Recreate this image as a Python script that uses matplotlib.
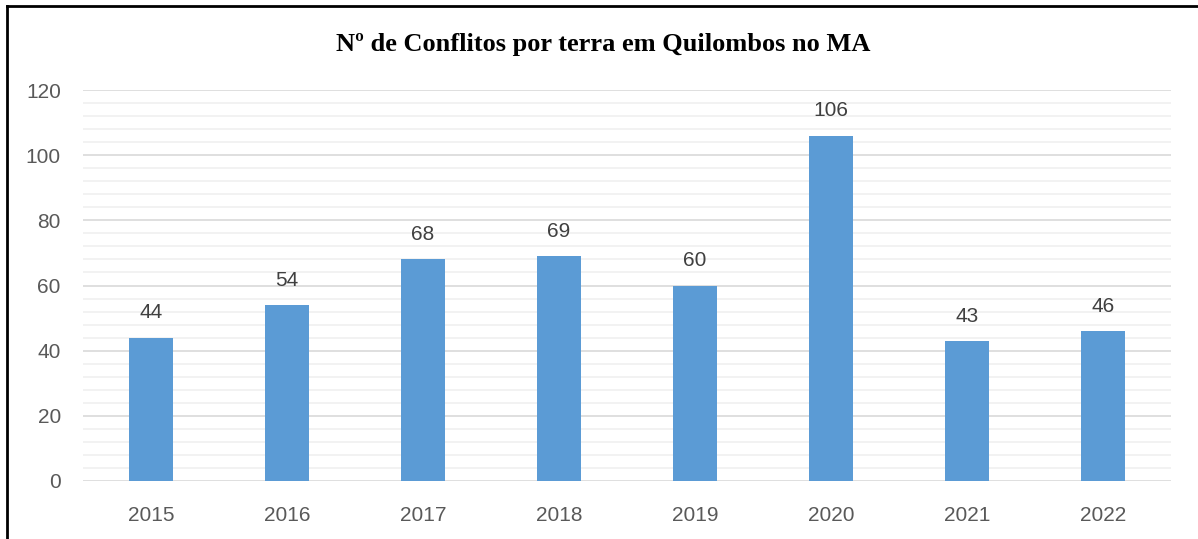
import matplotlib.pyplot as plt
from matplotlib.lines import Line2D
from matplotlib.ticker import MultipleLocator

years = ['2015', '2016', '2017', '2018', '2019', '2020', '2021', '2022']
conflicts = [44, 54, 68, 69, 60, 106, 43, 46]

plt.rcParams['font.family'] = ['Liberation Sans', 'DejaVu Sans']

fig = plt.figure(figsize=(11.98, 5.39), dpi=100)
ax = fig.add_axes([83 / 1198, 1 - 481 / 539, (1171 - 83) / 1198, (481 - 90) / 539])

x = range(len(years))
bars = ax.bar(x, conflicts, width=0.33, color='#5b9bd5', zorder=3)

ax.set_xlim(-0.5, len(years) - 0.5)
ax.set_ylim(0, 120)
ax.yaxis.set_major_locator(MultipleLocator(20))
ax.yaxis.set_minor_locator(MultipleLocator(4))
ax.grid(which='major', axis='y', color='#d9d9d9', linewidth=1.2, zorder=0)
ax.grid(which='minor', axis='y', color='#f0f0f0', linewidth=1.2, zorder=0)
ax.set_axisbelow(True)

ax.set_xticks(list(x))
ax.set_xticklabels(years)
ax.tick_params(axis='both', which='both', length=0, labelsize=15, colors='#595959')
ax.tick_params(axis='x', pad=18)
ax.tick_params(axis='y', pad=16)
for s in ax.spines.values():
    s.set_visible(False)

for xi, v in zip(x, conflicts):
    ax.annotate(str(v), (xi, v), xytext=(0, 11), textcoords='offset points',
                ha='center', va='bottom', fontsize=15, color='#404040')

fig.text(603 / 1198, 1 - 44 / 539, 'Nº de Conflitos por terra em Quilombos no MA',
         ha='center', va='center', fontsize=19, fontweight='bold',
         family=['Liberation Serif', 'DejaVu Serif'])

# frame lines (left and top only, as in the original crop)
fig.add_artist(Line2D([7 / 1198, 7 / 1198], [0, 1 - 6 / 539], color='black', linewidth=2))
fig.add_artist(Line2D([7 / 1198, 1], [1 - 6 / 539, 1 - 6 / 539], color='black', linewidth=2))

fig.savefig('out.png', dpi=100)
